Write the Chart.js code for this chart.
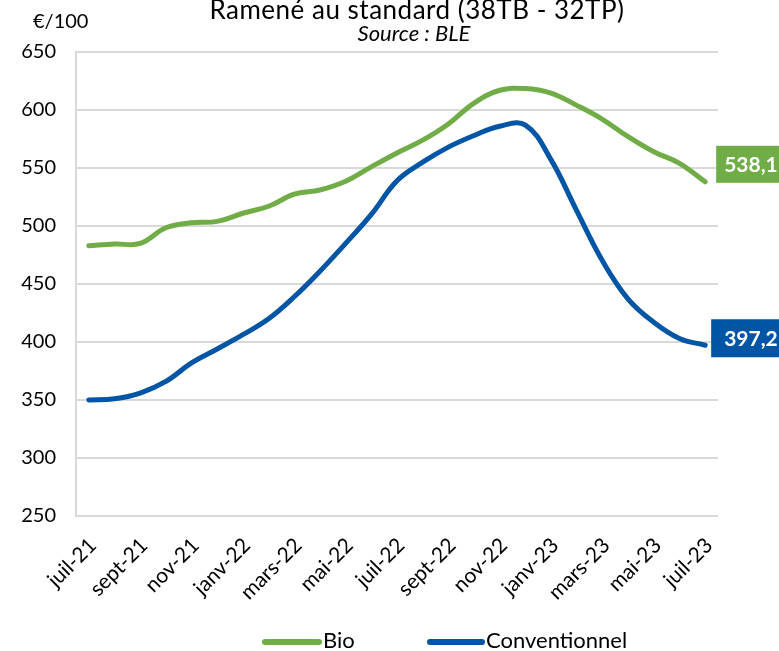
<!DOCTYPE html>
<html><head><meta charset="utf-8">
<script src="https://cdn.jsdelivr.net/npm/chart.js@4.4.0/dist/chart.umd.min.js"></script>
<style>html,body{margin:0;padding:0;background:#fff;overflow:hidden}#wrap{width:779px;height:651px;position:relative}</style>
</head><body><div id="wrap"><canvas id="c" width="779" height="651"></canvas></div>
<script>
const months = ['juil-21','août-21','sept-21','oct-21','nov-21','déc-21','janv-22','févr-22','mars-22','avr-22','mai-22','juin-22','juil-22','août-22','sept-22','oct-22','nov-22','déc-22','janv-23','févr-23','mars-23','avr-23','mai-23','juin-23','juil-23'];
const bio = [483, 484.5, 485, 498.5, 502.8, 504, 511, 517, 527.4, 531, 538.5, 551, 563, 574, 588, 606, 617, 618.5, 614.5, 604, 592, 577, 564, 554, 538.1];
const conv = [350, 351, 356, 366, 382, 394, 406.3, 420, 439, 461, 485, 510, 539, 555, 568, 578, 586, 587, 557, 513, 470, 437, 417, 403, 397.2];
const yTicks = {min: 250, max: 650, step: 50};
const titleText = 'Ramené au standard (38TB - 32TP)';
const subtitleText = 'Source : BLE';
const unitText = '€/100';
const endLabels = ['538,1', '397,2'];
const seriesNames = ['Bio', 'Conventionnel'];
const colors = ['#70AD47', '#0055A5'];

const FONT = 'Lato';

const textPlugin = {
  id: 'texts',
  afterDraw(chart) {
    const c = chart.ctx;
    c.save();
    c.fillStyle = '#000';
    c.textAlign = 'center';
    c.textBaseline = 'alphabetic';
    c.font = `26px ${FONT}`;
    if ('letterSpacing' in c) c.letterSpacing = '0.5px';
    c.fillText(titleText, 417, 19);
    if ('letterSpacing' in c) c.letterSpacing = '0px';
    c.font = `italic 22px ${FONT}`;
    c.fillText(subtitleText, 414, 41);
    c.textAlign = 'left';
    c.font = `20px ${FONT}`;
    c.fillText(unitText, 33, 28);
    // legend
    const ly = 642;
    const items = [{x: 265, w: 54}, {x: 430, w: 52}];
    c.lineCap = 'round';
    c.lineWidth = 6;
    c.textBaseline = 'middle';
    c.font = `22px ${FONT}`;
    items.forEach((it, i) => {
      c.strokeStyle = colors[i];
      c.beginPath(); c.moveTo(it.x, ly); c.lineTo(it.x + it.w, ly); c.stroke();
      c.fillStyle = '#000';
      c.fillText(seriesNames[i], it.x + it.w + 4, ly - 1);
    });
    c.restore();
  }
};

const endLabelPlugin = {
  id: 'endLabels',
  afterDatasetsDraw(chart) {
    const c = chart.ctx;
    const offs = [{dx: 11, dy: -36, h: 37, tx: 8}, {dx: 6, dy: -26, h: 38, tx: 13}];
    c.save();
    chart.data.datasets.forEach((ds, i) => {
      const meta = chart.getDatasetMeta(i);
      const p = meta.data[meta.data.length - 1];
      const o = offs[i];
      const x = p.x + o.dx, y = p.y + o.dy;
      c.fillStyle = colors[i];
      c.fillRect(x, y, 90, o.h);
      c.fillStyle = '#fff';
      c.font = `bold 21px ${FONT}`;
      c.textAlign = 'left';
      c.textBaseline = 'middle';
      c.fillText(endLabels[i], x + o.tx, y + o.h / 2 + 1);
    });
    c.restore();
  }
};

function draw() {
  new Chart(document.getElementById('c'), {
    type: 'line',
    data: {
      labels: months,
      datasets: [
        {label: seriesNames[0], data: bio, borderColor: colors[0], backgroundColor: colors[0], borderWidth: 5, pointRadius: 0, tension: 0.4, borderCapStyle: 'round', borderJoinStyle: 'round'},
        {label: seriesNames[1], data: conv, borderColor: colors[1], backgroundColor: colors[1], borderWidth: 5, pointRadius: 0, tension: 0.4, borderCapStyle: 'round', borderJoinStyle: 'round'}
      ]
    },
    options: {
      responsive: false, animation: false, devicePixelRatio: 1,
      layout: {padding: {top: 52, right: 61, left: 0, bottom: 0}},
      plugins: {legend: {display: false}, tooltip: {enabled: false}},
      scales: {
        x: {
          offset: true,
          grid: {display: false, drawTicks: false},
          border: {display: false},
          ticks: {
            autoSkip: false, maxRotation: 45, minRotation: 45, padding: 17, labelOffset: 4,
            font: {family: FONT, size: 21}, color: '#000',
            callback(v, i) { return i % 2 === 0 ? this.getLabelForValue(v) : null; }
          },
          afterFit(s) { s.height = 135; }
        },
        y: {
          min: yTicks.min, max: yTicks.max,
          ticks: {stepSize: yTicks.step, padding: 20, font: {family: FONT, size: 20}, color: '#000'},
          grid: {color: '#d9d9d9', lineWidth: 2, drawTicks: false},
          border: {color: '#d9d9d9', width: 2},
          afterFit(s) { s.width = 76; }
        }
      }
    },
    plugins: [endLabelPlugin, textPlugin]
  });
}
const loads = [`20px ${FONT}`, `bold 20px ${FONT}`, `italic 18px ${FONT}`].map(f => document.fonts.load(f));
Promise.all(loads).then(draw, draw);
</script>
</body></html>
